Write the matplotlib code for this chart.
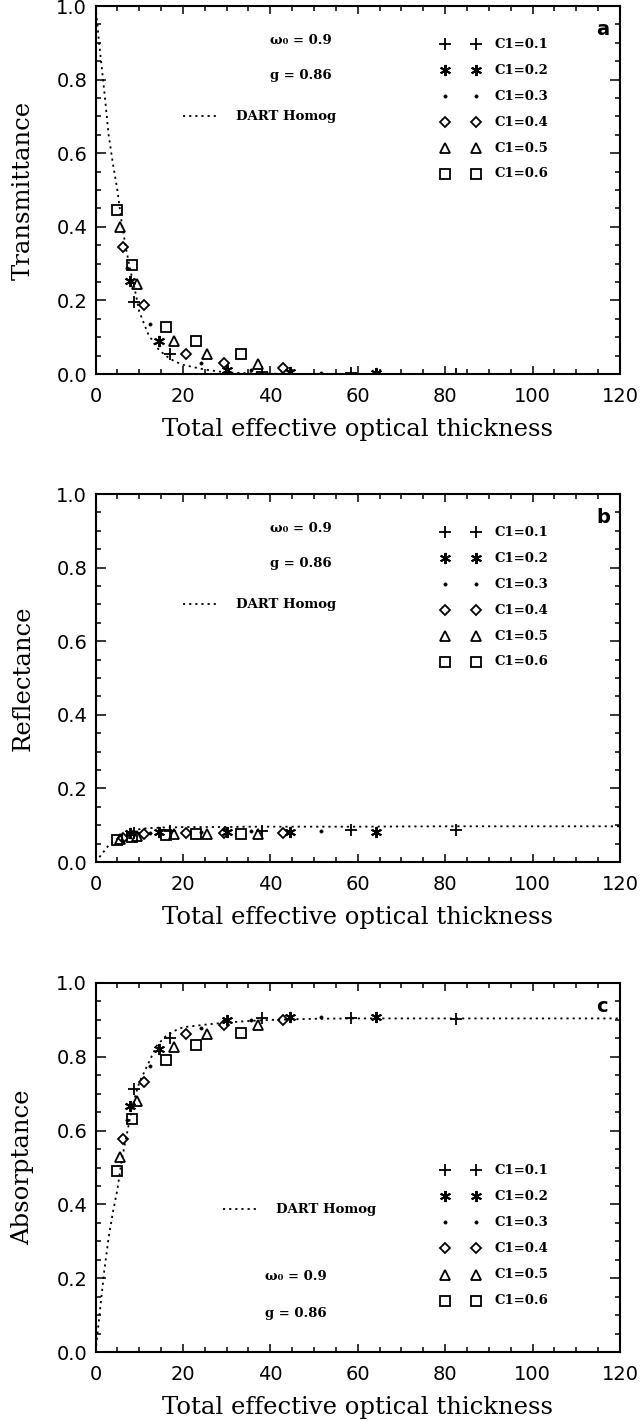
#!/usr/bin/env python3
# coding: utf-8

"""
Three stacked panels: transmittance, reflectance, absorptance vs total
effective optical thickness (DART homogeneous curve + C1 canopy cases).
"""

import matplotlib
matplotlib.use('Agg')
import matplotlib.pyplot as plt
from matplotlib.ticker import MultipleLocator

# ---- data ------------------------------------------------------------------
# optical thickness of each C1 case
tau_c01 = [8.8, 17.0, 38.0, 58.4, 82.4]
tau_c02 = [7.8, 14.6, 30.0, 44.5, 64.2]
tau_c03 = [7.1, 12.4, 24.2, 35.6, 51.6]
tau_c04 = [6.4, 11.0, 20.7, 29.5, 43.0]
tau_c05 = [5.5, 9.6, 18.0, 25.5, 37.1]
tau_c06 = [5.0, 8.4, 16.1, 23.1, 33.2]

# transmittance
trans_c01 = [0.197, 0.055, 0.006, 0.002, 0.001]
trans_c02 = [0.253, 0.091, 0.012, 0.006, 0.003]
trans_c03 = [0.289, 0.135, 0.030, 0.012, 0.004]
trans_c04 = [0.346, 0.188, 0.053, 0.030, 0.016]
trans_c05 = [0.400, 0.244, 0.089, 0.053, 0.027]
trans_c06 = [0.446, 0.296, 0.128, 0.089, 0.053]

# reflectance
refl_c01 = [0.080, 0.084, 0.084, 0.087, 0.088]
refl_c02 = [0.078, 0.082, 0.081, 0.082, 0.082]
refl_c03 = [0.074, 0.080, 0.082, 0.083, 0.084]
refl_c04 = [0.066, 0.076, 0.078, 0.079, 0.079]
refl_c05 = [0.062, 0.072, 0.075, 0.076, 0.076]
refl_c06 = [0.060, 0.069, 0.074, 0.075, 0.075]

# absorptance
abs_c01 = [0.713, 0.852, 0.906, 0.906, 0.903]
abs_c02 = [0.668, 0.822, 0.901, 0.908, 0.908]
abs_c03 = [0.628, 0.776, 0.879, 0.901, 0.908]
abs_c04 = [0.578, 0.731, 0.861, 0.885, 0.900]
abs_c05 = [0.529, 0.679, 0.827, 0.861, 0.885]
abs_c06 = [0.491, 0.632, 0.791, 0.831, 0.864]

# DART homogeneous curve
dart_tau = [0, 1, 2, 3, 4, 5, 6, 7, 8, 9, 10, 12, 14, 16, 18, 20, 25, 30,
            35, 40, 50, 60, 80, 100, 120]
dart_trans = [1.0, 0.88, 0.77, 0.65, 0.57, 0.50, 0.41, 0.34, 0.28, 0.23, 0.17,
              0.11, 0.072, 0.05, 0.035, 0.025, 0.012, 0.004, 0.002, 0.001,
              0.0, 0.0, 0.0, 0.0, 0.0]
dart_refl = [0.0, 0.015, 0.03, 0.045, 0.055, 0.063, 0.072, 0.078, 0.083, 0.086,
             0.089, 0.092, 0.093, 0.094, 0.094, 0.095, 0.095, 0.095, 0.096,
             0.096, 0.096, 0.096, 0.097, 0.097, 0.097]
dart_abs = [0.0, 0.11, 0.22, 0.31, 0.38, 0.44, 0.52, 0.58, 0.64, 0.69, 0.73,
            0.78, 0.83, 0.855, 0.87, 0.88, 0.887, 0.893, 0.897, 0.9, 0.903,
            0.904, 0.904, 0.904, 0.904]

case_labels = ['C1=0.1', 'C1=0.2', 'C1=0.3', 'C1=0.4', 'C1=0.5', 'C1=0.6']
tau_cases = [tau_c01, tau_c02, tau_c03, tau_c04, tau_c05, tau_c06]

# ---- styles -----------------------------------------------------------------
MARKERS = [
    dict(marker='+', ms=8, mew=1.3, mfc='none'),
    dict(marker=(6, 2, 0), ms=8, mew=1.4, mfc='none'),
    dict(marker='o', ms=2.3, mew=0.5, mfc='black'),
    dict(marker='D', ms=5.2, mew=1.3, mfc='none'),
    dict(marker='^', ms=6.5, mew=1.3, mfc='none'),
    dict(marker='s', ms=7.5, mew=1.3, mfc='none'),
]
SERIF = ['DejaVu Serif', 'DejaVu Sans']
DOTS = (0, (1.2, 2.2))

plt.rcParams['font.family'] = ['DejaVu Sans']

W, H = 643, 1421
LEFT, RIGHT = 95.5, 620.0
# (top, bottom) of each frame in pixels from the top of the image
FRAMES = [(6, 374), (494, 862), (983, 1352)]


def style_axes(ax, ylabel):
    ax.set_xlim(0, 120)
    ax.set_ylim(0, 1.0)
    ax.xaxis.set_major_locator(MultipleLocator(20))
    ax.xaxis.set_minor_locator(MultipleLocator(5))
    ax.yaxis.set_major_locator(MultipleLocator(0.2))
    ax.yaxis.set_minor_locator(MultipleLocator(0.05))
    ax.yaxis.set_major_formatter(matplotlib.ticker.FormatStrFormatter('%.1f'))
    ax.tick_params(which='both', direction='in', top=True, right=True,
                   width=1.1, labelsize=14)
    ax.tick_params(axis='x', which='major', length=6, pad=9)
    ax.tick_params(axis='x', which='minor', length=3.8)
    ax.tick_params(axis='y', which='major', length=7.5, pad=6)
    ax.tick_params(axis='y', which='minor', length=3.8)
    for sp in ax.spines.values():
        sp.set_linewidth(1.5)
    ax.set_xlabel('Total effective optical thickness', family=SERIF,
                  fontsize=17.5, va='center')
    ax.xaxis.set_label_coords(0.5, -0.150)
    ax.set_ylabel(ylabel, family=SERIF, fontsize=17.5, va='center')
    ax.yaxis.set_label_coords(-0.138, 0.5)


def draw_panel(ax, curve, values, ylabel, letter, leg_y0, dart_xy, omega_xy):
    ax.plot(dart_tau, curve, color='black', lw=1.3, ls=DOTS, zorder=2)
    for tau, val, mk in zip(tau_cases, values, MARKERS):
        ax.plot(tau, val, ls='none', color='black', mec='black', zorder=3, **mk)

    # hand-made legend: symbol, symbol, label
    step = 0.0705
    for i, (lab, mk) in enumerate(zip(case_labels, MARKERS)):
        y = leg_y0 - i * step
        ax.plot([80.0, 87.0], [y, y], ls='none', color='black', mec='black',
                clip_on=False, **mk)
        ax.text(91.3, y, lab, family=SERIF, fontsize=9.5, fontweight='bold',
                ha='left', va='center')

    dx, dy = dart_xy
    ax.plot([dx, dx + 8.3], [dy, dy], color='black', lw=1.3, ls=DOTS)
    ax.text(dx + 12.2, dy, 'DART Homog', family=SERIF, fontsize=9.5,
            fontweight='bold', ha='left', va='center')

    ox, oy, gy = omega_xy
    ax.text(ox, oy, 'ω₀ = 0.9', family=SERIF, fontsize=9.5,
            fontweight='bold', ha='left', va='center')
    ax.text(ox, gy, 'g = 0.86', family=SERIF, fontsize=9.5,
            fontweight='bold', ha='left', va='center')

    ax.text(114.5, 0.935, letter, fontsize=14, fontweight='bold',
            ha='left', va='center')
    style_axes(ax, ylabel)


def main():
    fig = plt.figure(figsize=(W / 100, H / 100), dpi=100)
    axes = []
    for top, bot in FRAMES:
        axes.append(fig.add_axes([LEFT / W, 1 - bot / H,
                                  (RIGHT - LEFT) / W, (bot - top) / H]))

    draw_panel(axes[0], dart_trans,
               [trans_c01, trans_c02, trans_c03, trans_c04, trans_c05, trans_c06],
               'Transmittance', 'a', 0.896, (20.0, 0.70), (40.0, 0.907, 0.811))
    draw_panel(axes[1], dart_refl,
               [refl_c01, refl_c02, refl_c03, refl_c04, refl_c05, refl_c06],
               'Reflectance', 'b', 0.896, (20.0, 0.70), (40.0, 0.907, 0.811))
    draw_panel(axes[2], dart_abs,
               [abs_c01, abs_c02, abs_c03, abs_c04, abs_c05, abs_c06],
               'Absorptance', 'c', 0.492, (29.2, 0.387), (38.7, 0.204, 0.105))

    fig.savefig('out.png', dpi=100)
    plt.close(fig)


if __name__ == '__main__':
    main()
